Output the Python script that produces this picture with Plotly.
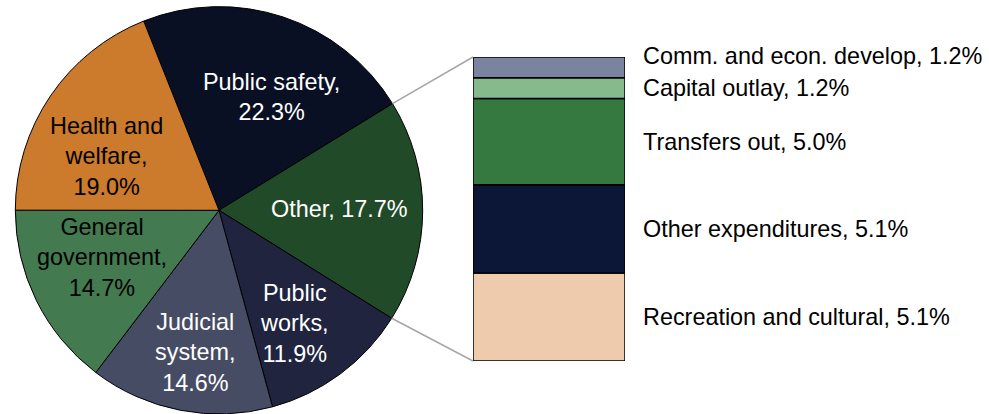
import math
import plotly.graph_objects as go

# Main pie: share of expenditures (%)
pie_labels = ["Public safety,<br>22.3%", "Other, 17.7%", "Public<br>works,<br>11.9%",
              "Judicial<br>system,<br>14.6%", "General<br>government,<br>14.7%",
              "Health and<br>welfare,<br>19.0%"]
pie_values = [22.3, 17.7, 11.9, 14.6, 14.7, 19.0]
pie_colors = ["#0a1024", "#214a28", "#20243f", "#454c63", "#447a50", "#cc7a2c"]
pie_text_colors = ["white", "white", "white", "white", "black", "black"]

# Breakdown of "Other" (bottom to top)
bar_labels = ["Recreation and cultural, 5.1%", "Other expenditures, 5.1%", "Transfers out, 5.0%",
              "Capital outlay, 1.2%", "Comm. and econ. develop, 1.2%"]
bar_values = [5.1, 5.1, 5.0, 1.2, 1.2]
bar_colors = ["#eecbad", "#0c1636", "#357840", "#86b98c", "#7a84a0"]

W, H = 989, 414
FONT = "Arial, Liberation Sans, sans-serif"
FS = 23.4

# pie geometry (pixels)
pie_x = [15 / W, 423 / W]
pie_y = [0.0, 0.984]
cx = (pie_x[0] + pie_x[1]) / 2 * W
cy = H - (pie_y[0] + pie_y[1]) / 2 * H
R = min((pie_x[1] - pie_x[0]) * W, (pie_y[1] - pie_y[0]) * H) / 2
rotation = -21.7
total = sum(pie_values)

# label placement inside each slice: (fraction of slice angle, fraction of radius)
label_pos = [(0.58, 0.61), (0.49, 0.59), (0.57, 0.67), (0.47, 0.71), (0.58, 0.62), (0.375, 0.61)]

# bar geometry
bar_xdom = [473 / W, 625 / W]
bar_ydom = [53 / H, 357 / H]

fig = go.Figure()
fig.add_trace(go.Pie(
    values=pie_values, labels=pie_labels, sort=False, direction="clockwise",
    rotation=rotation, marker=dict(colors=pie_colors, line=dict(color="black", width=1)),
    textinfo="none", hoverinfo="label+value", domain=dict(x=pie_x, y=pie_y), showlegend=False,
))

bottom = 0
for lab, val, col in zip(bar_labels, bar_values, bar_colors):
    fig.add_trace(go.Bar(
        x=[0], y=[val], base=[bottom], marker=dict(color=col, line=dict(color="black", width=1.5)),
        width=1, showlegend=False, name=lab, xaxis="x", yaxis="y",
    ))
    bottom += val

annotations = []
start = rotation
boundaries = []
for lab, val, tc, (af, rf) in zip(pie_labels, pie_values, pie_text_colors, label_pos):
    span = val / total * 360
    ang = math.radians(start + af * span)
    px = cx + rf * R * math.sin(ang)
    py = cy - rf * R * math.cos(ang)
    annotations.append(dict(x=px / W, y=1 - py / H, xref="paper", yref="paper", text=lab,
                            showarrow=False, font=dict(color=tc, size=FS, family=FONT),
                            xanchor="center", yanchor="middle"))
    start += span
    boundaries.append(start)

# bar labels
bottom = 0
for i, (lab, val) in enumerate(zip(bar_labels, bar_values)):
    annotations.append(dict(x=641 / W, y=bottom + val / 2, xref="paper", yref="y", text=lab,
                            showarrow=False, xanchor="left", yanchor="middle",
                            yshift=11 if i == len(bar_values) - 1 else 0,
                            font=dict(color="black", size=FS, family=FONT)))
    bottom += val

# connector lines from "Other" slice edges to bar corners
def edge(angle_deg):
    a = math.radians(angle_deg)
    return (cx + R * math.sin(a)) / W, 1 - (cy - R * math.cos(a)) / H

x1, y1 = edge(boundaries[0])
x2, y2 = edge(boundaries[1])
shapes = [
    dict(type="line", xref="paper", yref="paper", x0=x1, y0=y1, x1=bar_xdom[0], y1=bar_ydom[1],
         line=dict(color="#a6a6a6", width=1.5)),
    dict(type="line", xref="paper", yref="paper", x0=x2, y0=y2, x1=bar_xdom[0], y1=bar_ydom[0],
         line=dict(color="#a6a6a6", width=1.5)),
]

fig.update_layout(
    width=W, height=H, margin=dict(l=0, r=0, t=0, b=0),
    paper_bgcolor="white", plot_bgcolor="white", barmode="overlay",
    xaxis=dict(domain=bar_xdom, range=[-0.5, 0.5], visible=False, fixedrange=True),
    yaxis=dict(domain=bar_ydom, range=[0, sum(bar_values)], visible=False, fixedrange=True),
    annotations=annotations, shapes=shapes, font=dict(family=FONT),
)

fig.write_html("out.html", config={"displayModeBar": False},
               post_script="document.body.style.margin='0';")
